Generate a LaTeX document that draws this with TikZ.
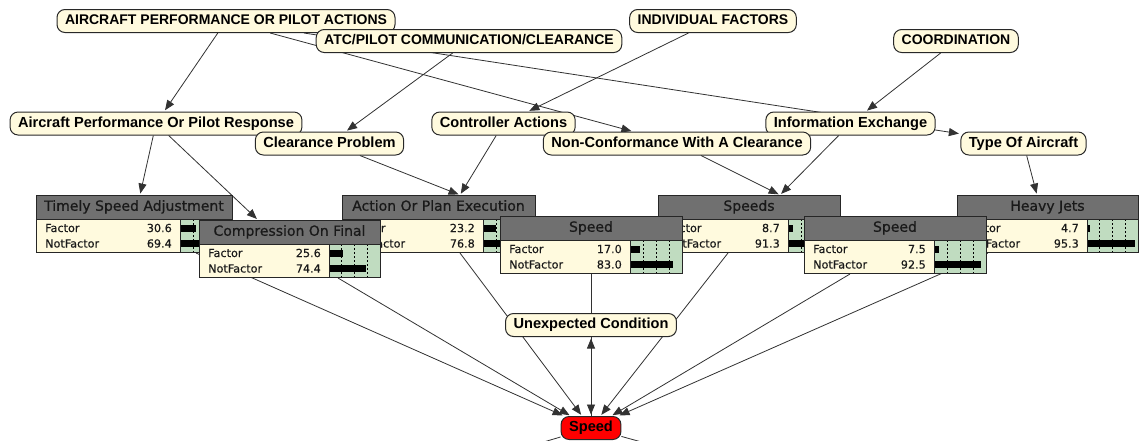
\documentclass[tikz,border=0pt]{standalone}
\usepackage{fontspec}
\setmainfont{Liberation Sans}
\newfontfamily\montitlefont[FakeBold=0.6]{DejaVu Sans}
\newfontfamily\montextfont[FakeBold=0.3]{DejaVu Sans}
\usetikzlibrary{arrows.meta,calc}
\pgfdeclarelayer{canvas}
\pgfdeclarelayer{background}
\pgfsetlayers{canvas,background,main}

\definecolor{nodefill}{RGB}{255,250,222}
\definecolor{nodeedge}{RGB}{40,40,40}
\definecolor{titlegray}{RGB}{112,112,112}
\definecolor{bargreen}{RGB}{192,220,192}
\definecolor{edgecol}{RGB}{50,50,50}
\definecolor{alertred}{RGB}{255,0,0}

\tikzset{
  factorbox/.style={draw=nodeedge, fill=nodefill, rounded corners=8pt, line width=1pt,
    minimum height=23pt, inner xsep=8pt, inner ysep=0pt, text height=10.5pt, text depth=3pt,
    font=\bfseries\fontsize{14.6}{16}\selectfont, text=black},
  capsbox/.style={factorbox, font=\bfseries\fontsize{14}{16}\selectfont},
  targetbox/.style={factorbox, fill=alertred},
  link/.style={draw=edgecol, line width=0.8pt},
  arc/.style={link, -{Triangle[length=10pt,width=8pt]}, shorten >=1.5pt},
  monbox/.style={draw=black!85, line width=1pt, inner sep=0pt},
  monsep/.style={draw=black!85, line width=0.9pt},
  montitle/.style={font=\montitlefont\fontsize{14}{16}\selectfont, text=black!90, inner sep=0pt,
    text height=10pt, text depth=2.5pt},
  montext/.style={font=\montextfont\fontsize{11.2}{13}\selectfont, text=black!90, inner sep=0pt},
  gridline/.style={black, line width=0.7pt, dash pattern=on 2pt off 2pt},
}

% belief monitor: name, left, top, width, width of the text part, title, Factor, NotFactor
\newcommand{\bnmonitor}[8]{%
  \fill[titlegray] (#2,#3) rectangle ({#2+#4},{#3+24});
  \fill[nodefill] ({#2},{#3+24}) rectangle ({#2+#5},{#3+57});
  \fill[bargreen] ({#2+#5},{#3+24}) rectangle ({#2+#4},{#3+57});
  \foreach \k in {1,2,3}
    \draw[gridline] ({#2+#5+\k*(#4-#5)/4},{#3+24}) -- ({#2+#5+\k*(#4-#5)/4},{#3+57});
  \fill[black] ({#2+#5+1},{#3+29.5}) rectangle ({#2+#5+1+#7*(#4-#5-2)/100},{#3+36.5});
  \fill[black] ({#2+#5+1},{#3+45}) rectangle ({#2+#5+1+#8*(#4-#5-2)/100},{#3+52});
  \draw[monsep] (#2,{#3+24}) -- ({#2+#4},{#3+24});
  \draw[monsep] ({#2+#5},{#3+24}) -- ({#2+#5},{#3+57});
  \node[monbox, minimum width=#4pt, minimum height=57pt, anchor=north west] (#1) at (#2,#3) {};
  \node[montitle] at ({#2+#4/2},{#3+12}) {#6};
  \node[montext, anchor=west] at ({#2+9},{#3+33}) {Factor};
  \node[montext, anchor=east] at ({#2+#5-8},{#3+33}) {#7};
  \node[montext, anchor=west] at ({#2+9},{#3+48.5}) {NotFactor};
  \node[montext, anchor=east] at ({#2+#5-8},{#3+48.5}) {#8};
}

\begin{document}
\begin{tikzpicture}[x=1pt, y=-1pt]
\begin{pgfonlayer}{canvas}
  \fill[white] (0,0) rectangle (1141,440);
\end{pgfonlayer}
\useasboundingbox (0,0) rectangle (1141,440);

% top level factors
\node[capsbox] (apa) at (226,21) {AIRCRAFT PERFORMANCE OR PILOT ACTIONS};
\node[capsbox] (ind) at (713,21) {INDIVIDUAL FACTORS};
\node[capsbox] (atc) at (469,41) {ATC/PILOT COMMUNICATION/CLEARANCE};
\node[capsbox] (coo) at (956,41) {COORDINATION};

% second level factors
\node[factorbox] (apr) at (156,123.5) {Aircraft Performance Or Pilot Response};
\node[factorbox] (cta) at (503.5,123.5) {Controller Actions};
\node[factorbox] (ine) at (850.5,123.5) {Information Exchange};
\node[factorbox] (clp) at (329.5,143.5) {Clearance Problem};
\node[factorbox] (ncc) at (677,143.5) {Non-Conformance With A Clearance};
\node[factorbox] (toa) at (1023.5,143.5) {Type Of Aircraft};

% belief monitors
\bnmonitor{timely}{36}{195}{196}{144}{Timely Speed Adjustment}{30.6}{69.4}
\bnmonitor{action}{342}{195}{193}{141}{Action Or Plan Execution}{23.2}{76.8}
\bnmonitor{speeds}{658}{195}{182}{130}{Speeds}{8.7}{91.3}
\bnmonitor{heavy}{957}{195}{181}{130}{Heavy Jets}{4.7}{95.3}
\bnmonitor{compr}{199}{220}{181}{130}{Compression On Final}{25.6}{74.4}
\bnmonitor{speedA}{500}{216}{182}{130}{Speed}{17.0}{83.0}
\bnmonitor{speedB}{804}{216}{182}{130}{Speed}{7.5}{92.5}

\node[factorbox] (unexp) at (591,325) {Unexpected Condition};
\node[targetbox] (speed) at (591,428) {Speed};

% ends of the links that leave the target downwards
\coordinate (outL) at (530,446);
\coordinate (outR) at (656,446);

\begin{pgfonlayer}{background}
  \draw[arc] (apa) -- (apr);
  \draw[arc] (apa) -- (ncc);
  \draw[arc] (apa) -- (toa);
  \draw[arc] (atc) -- (clp);
  \draw[arc] (ind) -- (cta);
  \draw[arc] (coo) -- (ine);
  \draw[arc] (apr) -- ($(timely.north west)+(104,0)$);
  \draw[arc] (apr) -- ($(compr.north west)+(59,0)$);
  \draw[arc] (clp) -- ($(action.north west)+(118,0)$);
  \draw[arc] (cta) -- ($(action.north west)+(118,0)$);
  \draw[arc] (ncc) -- ($(speeds.north west)+(122,0)$);
  \draw[arc] (ine) -- ($(speeds.north west)+(122,0)$);
  \draw[arc] (toa) -- ($(heavy.north west)+(80,0)$);

  \draw[arc] ($(timely.south west)+(160,0)$) -- (speed);
  \draw[arc] ($(compr.south west)+(139,0)$) -- (speed);
  \draw[arc] ($(action.south west)+(118,0)$) -- (speed);
  \draw[arc] ($(speedA.south west)+(91,0)$) -- (speed);
  \draw[arc] ($(speeds.south west)+(70,0)$) -- (speed);
  \draw[arc] ($(speedB.south west)+(46,0)$) -- (speed);
  \draw[arc] ($(heavy.south west)+(31,0)$) -- (speed);
  \draw[arc] (speed) -- (unexp);
  \draw[link] (speed) -- (outL);
  \draw[link] (speed) -- (outR);
\end{pgfonlayer}
\end{tikzpicture}
\end{document}
